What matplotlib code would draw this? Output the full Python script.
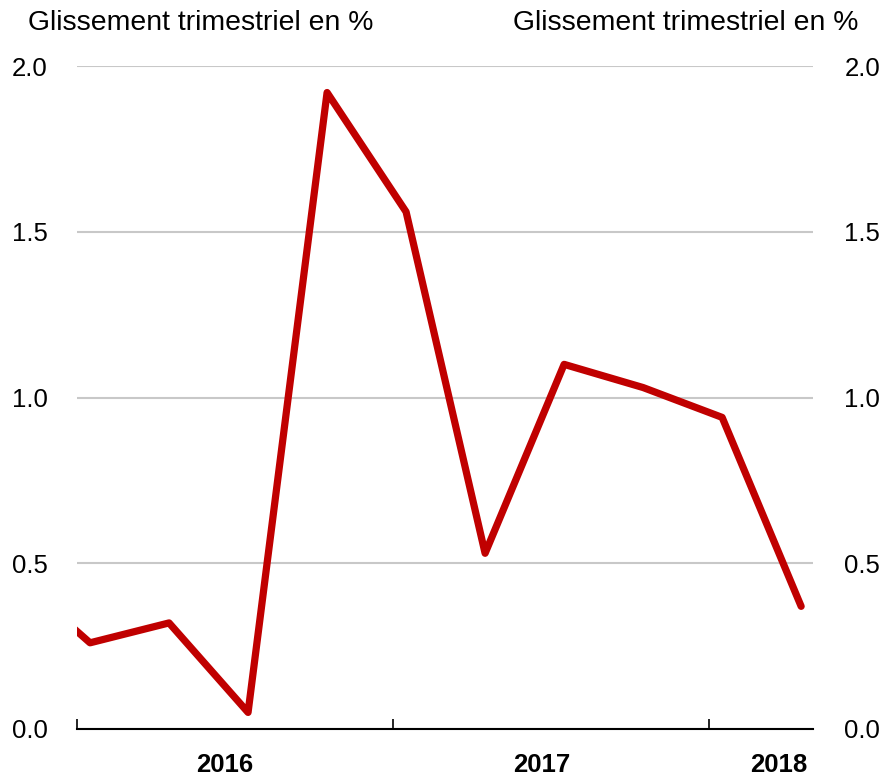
import matplotlib
matplotlib.use("Agg")
import matplotlib.pyplot as plt

quarters = ["2015T4", "2016T1", "2016T2", "2016T3", "2016T4", "2017T1", "2017T2",
            "2017T3", "2017T4", "2018T1", "2018T2"]
values = [0.47, 0.26, 0.32, 0.05, 1.92, 1.56, 0.53, 1.10, 1.03, 0.94, 0.37]
year_labels = ["2016", "2017", "2018"]
year_label_pos = [1.71, 5.72, 8.72]
year_bounds = [-0.165, 3.835, 7.835]
yticks = [0.0, 0.5, 1.0, 1.5, 2.0]
title = "Glissement trimestriel en %"

plt.rcParams["font.family"] = ["Liberation Sans", "DejaVu Sans"]

fig = plt.figure(figsize=(8.81, 7.78), dpi=100)
ax = fig.add_axes([77/881, 49/778, (813-77)/881, (729-66)/778])

x = list(range(-1, len(values) - 1))
ax.plot(x, values, color="#C00000", lw=5.2, solid_joinstyle="round",
        solid_capstyle="round", zorder=3)

ax.set_xlim(-0.165, 9.15)
ax.set_ylim(0, 2.0)
ax.set_yticks(yticks)
ax.set_yticklabels([f"{v:.1f}" for v in yticks])
ax.yaxis.grid(True, color="#C8C8C8", lw=1.5)
ax.set_axisbelow(True)

for s in ["top", "left", "right"]:
    ax.spines[s].set_visible(False)
ax.spines["bottom"].set_linewidth(1.5)

ax.set_xticks(year_bounds)
ax.set_xticklabels([])
ax.set_xticks(year_label_pos, minor=True)
ax.set_xticklabels(year_labels, minor=True, fontsize=18.5, fontweight="bold")
ax.tick_params(axis="x", which="major", direction="in", length=7, width=1.2)
ax.tick_params(axis="x", which="minor", length=0, pad=17.5)
ax.tick_params(axis="y", which="both", length=0, labelsize=18.5, pad=21)

ax2 = ax.twinx()
ax2.set_ylim(ax.get_ylim())
ax2.set_yticks(yticks)
ax2.set_yticklabels([f"{v:.1f}" for v in yticks])
ax2.tick_params(axis="y", which="both", length=0, labelsize=18.5, pad=22.5)
for s in ["top", "left", "right", "bottom"]:
    ax2.spines[s].set_visible(False)

fig.text(28/881, 1 - 23/778, title, fontsize=20.4, ha="left", va="center")
fig.text(858/881, 1 - 23/778, title, fontsize=20.4, ha="right", va="center")

fig.savefig("out.png", dpi=100)
